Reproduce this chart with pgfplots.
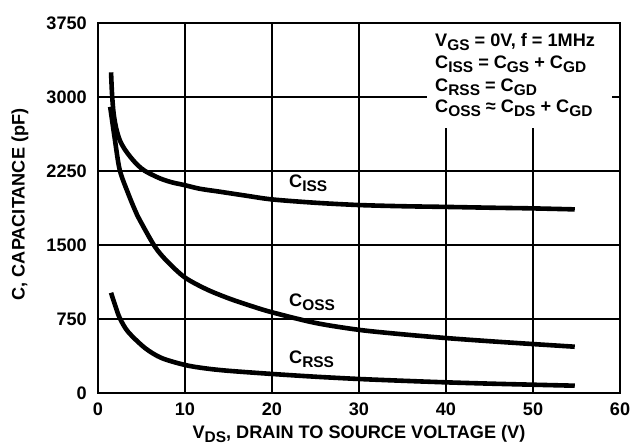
\documentclass[border=0pt]{standalone}
\usepackage{pgfplots}
\pgfplotsset{compat=1.18}
\usepackage{fontspec}
\setmainfont{Liberation Sans}
\newcommand{\sub}[1]{\raisebox{-4bp}{\fontsize{15.5}{15.5}\selectfont #1}}
\newcommand{\tb}[1]{\textbf{#1}}
\begin{document}
\begin{tikzpicture}
\path[use as bounding box] (-98bp,-52bp) rectangle (536bp,393bp);
\begin{axis}[
  scale only axis, width=522bp, height=370bp,
  xmin=0, xmax=60, ymin=0, ymax=3750, clip=false,
  xtick={0,10,...,60}, ytick={0,750,1500,2250,3000,3750},
  xticklabels={\tb{0},\tb{10},\tb{20},\tb{30},\tb{40},\tb{50},\tb{60}},
  yticklabels={\tb{0},\tb{750},\tb{1500},\tb{2250},\tb{3000},\tb{3750}},
  grid=major, major grid style={black, line width=1.5bp},
  axis line style={black, line width=1.5bp},
  major tick length=0pt,
  font=\fontsize{18.2}{19}\selectfont\bfseries,
  tick label style={font=\fontsize{18.2}{19}\selectfont\bfseries},
  xticklabel style={anchor=north, inner sep=0pt, yshift=-10bp},
  yticklabel style={anchor=east, inner sep=0pt, xshift=-11bp},
]
\addplot[fill=white, draw=none] coordinates {(37.8,2685) (59.08,2685) (59.08,3738) (37.8,3738)} -- cycle;
\addplot[black, line width=4.6bp, smooth, tension=0.5] coordinates {
 (1.5,3250) (1.62,3020) (1.8,2830) (2.1,2680) (2.5,2563) (3.0,2480) (3.7,2395)
 (4.5,2315) (5.4,2250) (7.1,2176) (8.5,2135) (10,2106) (11.7,2070) (14,2040)
 (17,2000) (20,1962) (25,1928) (30,1905)
 (35,1893) (40,1886) (45,1878) (50,1871) (54.8,1861)};
\addplot[black, line width=4.6bp, smooth, tension=0.5] coordinates {
 (1.4,2900) (1.95,2563) (2.5,2260) (3.45,2026) (4.25,1854) (4.8,1753) (6.55,1482)
 (8,1330) (10,1170) (12.5,1050) (15,960) (17.5,885) (20,818) (25,710) (30,640)
 (35,595) (40,557) (45,525) (50,496) (54.8,469)};
\addplot[black, line width=4.6bp, smooth, tension=0.5] coordinates {
 (1.5,1016) (2,880) (2.5,760) (3.45,621) (5.4,456) (7.3,355) (10,284) (12.3,250)
 (15,225) (20,193) (25,165) (30,142) (35,124) (40,108) (45,95) (50,84) (54.8,74)};
\node[anchor=base west, inner sep=0pt] at (axis cs:38.74,3507) {V\sub{GS} = 0V, f = 1MHz};
\node[anchor=base west, inner sep=0pt] at (axis cs:38.74,3284) {C\sub{ISS} = C\sub{GS} + C\sub{GD}};
\node[anchor=base west, inner sep=0pt] at (axis cs:38.74,3056) {C\sub{RSS} = C\sub{GD}};
\node[anchor=base west, inner sep=0pt] at (axis cs:38.74,2838) {C\sub{OSS} ≈ C\sub{DS} + C\sub{GD}};
\node[anchor=base west, inner sep=0pt] at (axis cs:21.95,2079) {C\sub{ISS}};
\node[anchor=base west, inner sep=0pt] at (axis cs:21.95,873) {C\sub{OSS}};
\node[anchor=base west, inner sep=0pt] at (axis cs:21.95,304) {C\sub{RSS}};
\node[anchor=base, inner sep=0pt, yshift=-45bp] at (axis cs:30,0) {V\sub{DS}, DRAIN TO SOURCE VOLTAGE (V)};
\node[xshift=-78bp, rotate=90, anchor=center, inner sep=0pt] at (axis cs:0,1911) {C, CAPACITANCE (pF)};
\end{axis}
\end{tikzpicture}
\end{document}
